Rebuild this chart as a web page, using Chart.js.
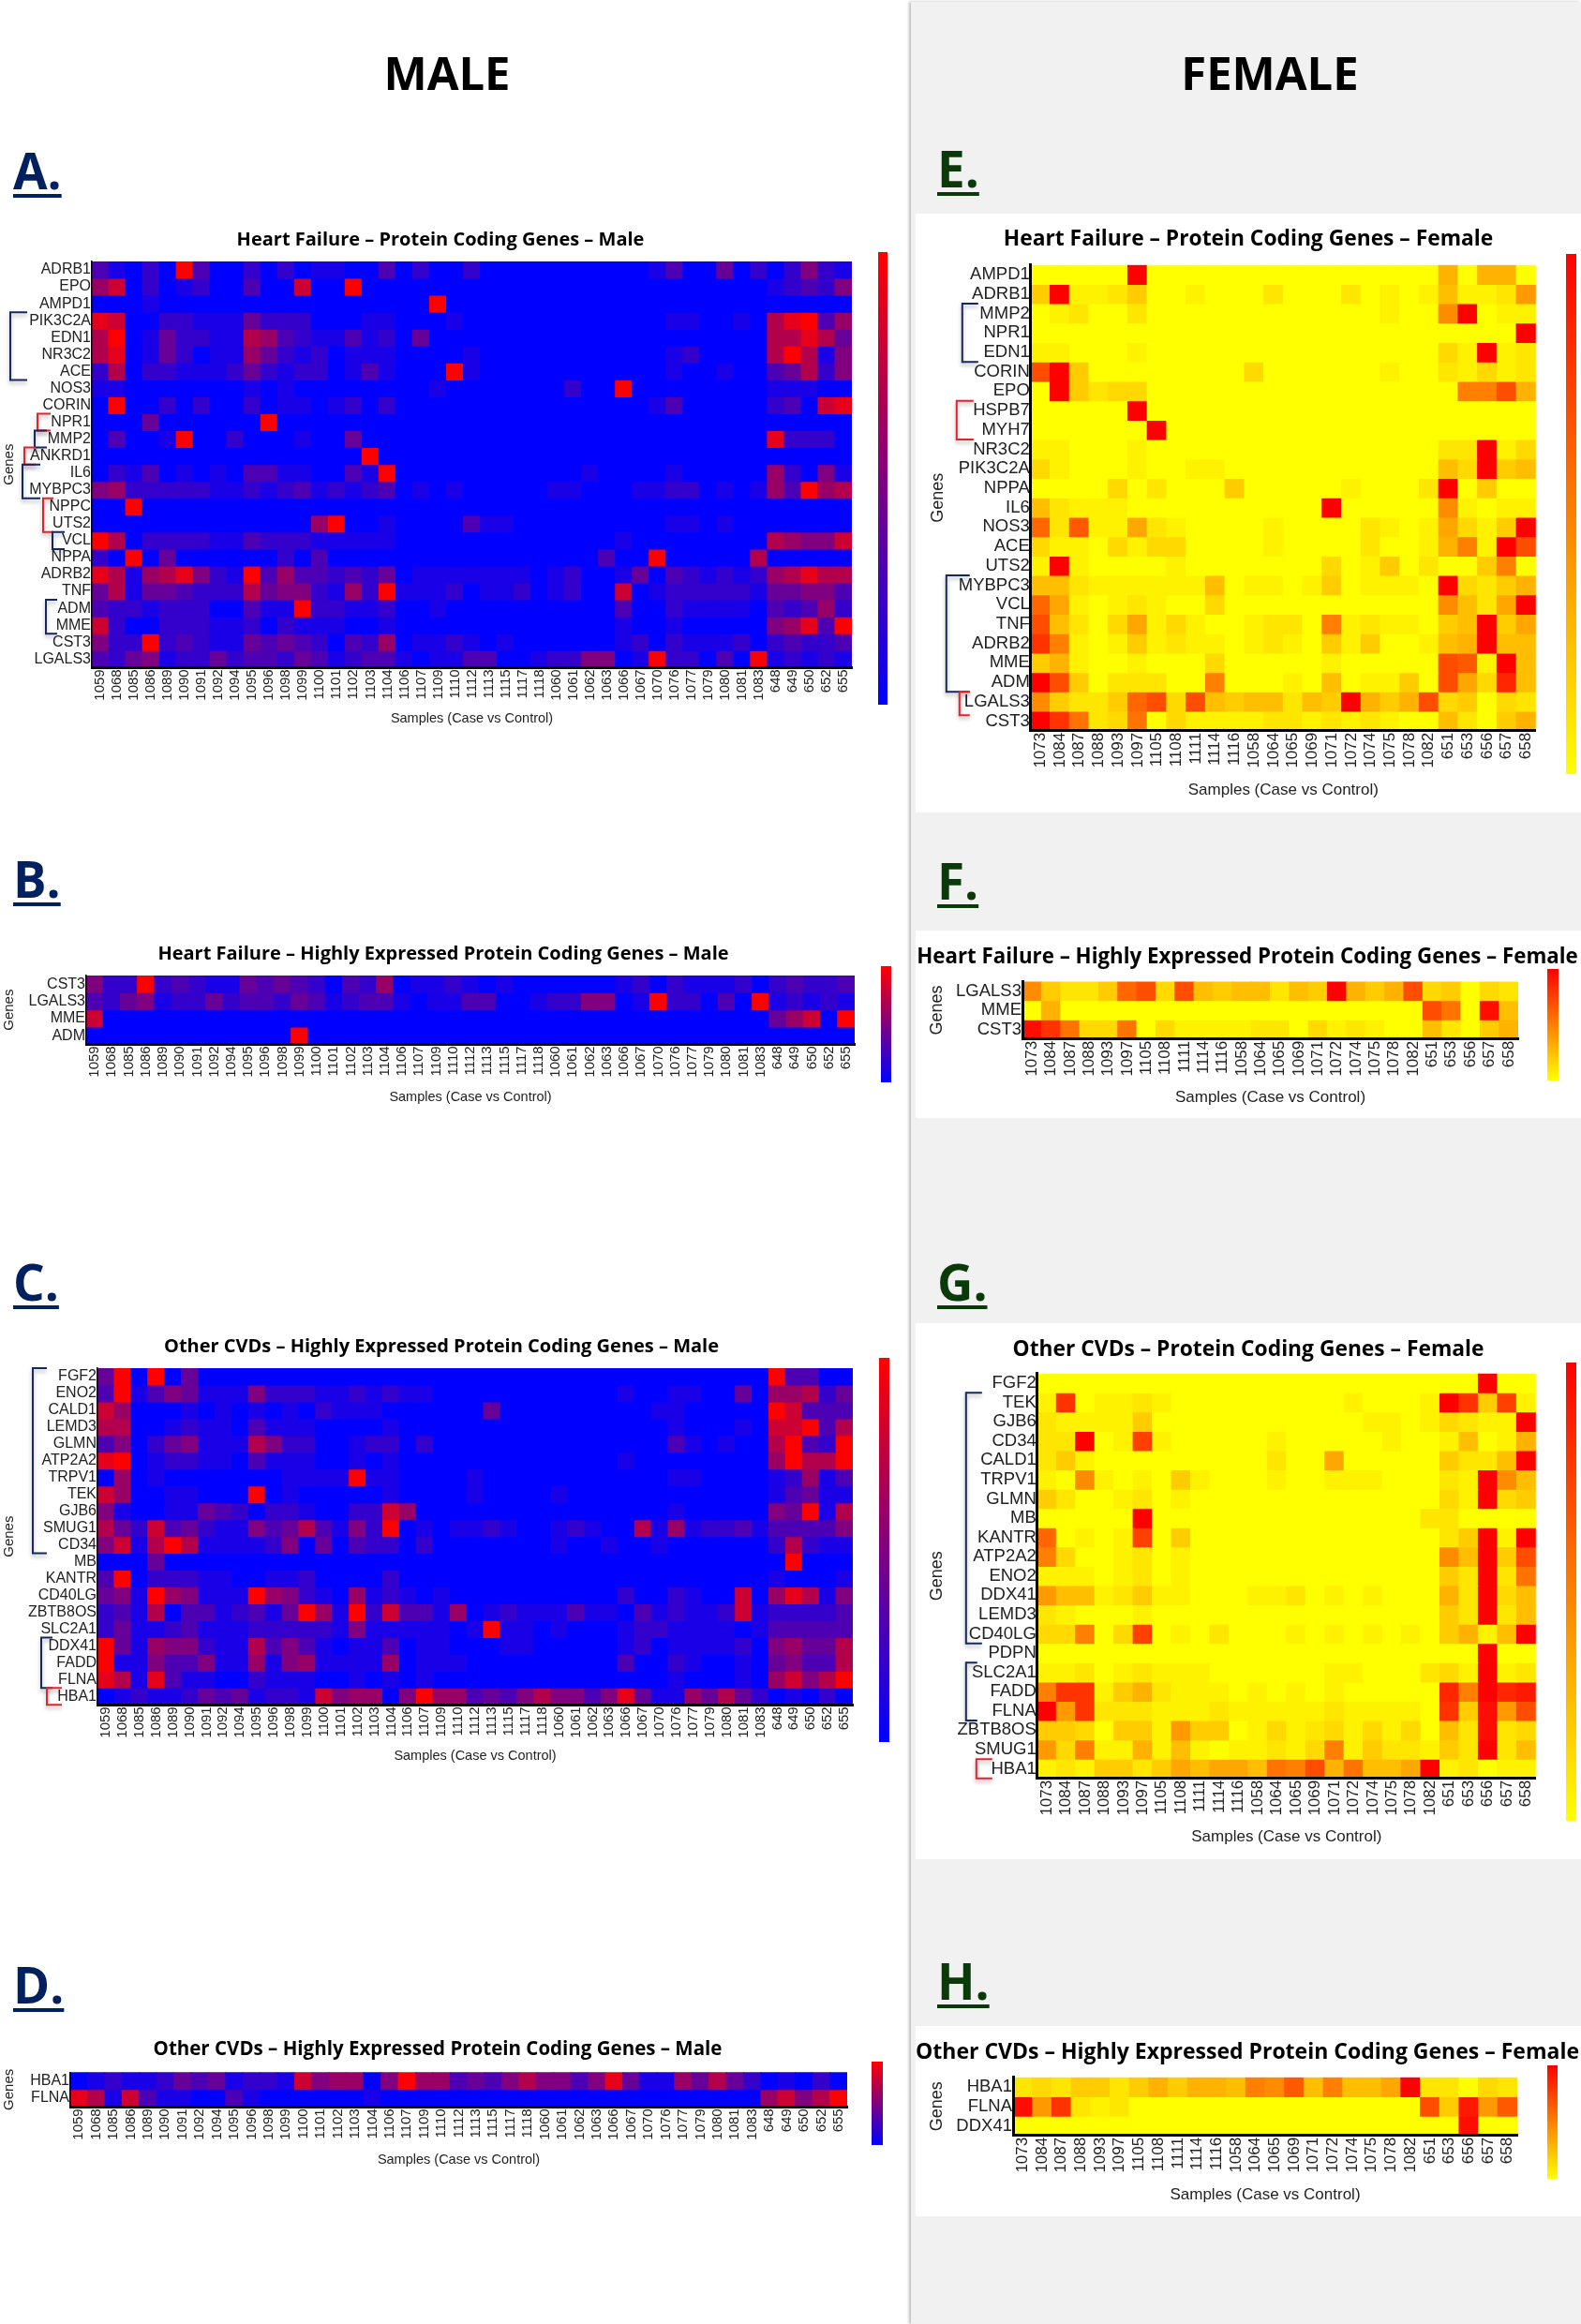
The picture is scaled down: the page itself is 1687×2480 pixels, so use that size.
<!DOCTYPE html>
<html>
<head>
<meta charset="utf-8">
<title>Protein coding genes heatmaps</title>
<script src="https://cdn.jsdelivr.net/npm/chart.js@4/dist/chart.umd.min.js"></script>
<style>
  html, body { margin: 0; padding: 0; background: #fff; }
  #page { position: relative; width: 1687px; height: 2480px; overflow: hidden; }
  #page > * { position: absolute; }
  canvas { display: block; }
  .head { font: 700 49px/1 "Open Sans", sans-serif; color: #000; transform: translateX(-50%); white-space: nowrap; }
  .letter { font: 700 53px/1 "Open Sans", sans-serif; text-decoration: underline; text-decoration-thickness: 4px; text-underline-offset: 5px; }
</style>
</head>
<body>
<div id="page"></div>
<script>
// Sample ids on the x axis
const maleSamples = ["1059","1068","1085","1086","1089","1090","1091","1092","1094","1095","1096","1098","1099","1100","1101","1102","1103","1104","1106","1107","1109","1110","1112","1113","1115","1117","1118","1060","1061","1062","1063","1066","1067","1070","1076","1077","1079","1080","1081","1083","648","649","650","652","655"];
const femaleSamples = ["1073","1084","1087","1088","1093","1097","1105","1108","1111","1114","1116","1058","1064","1065","1069","1071","1072","1074","1075","1078","1082","651","653","656","657","658"];

// A. values are 0 (blue) to 10 (red), one row per gene
const genesA = ["ADRB1","EPO","AMPD1","PIK3C2A","EDN1","NR3C2","ACE","NOS3","CORIN","NPR1","MMP2","ANKRD1","IL6","MYBPC3","NPPC","UTS2","VCL","NPPA","ADRB2","TNF","ADM","MME","CST3","LGALS3"];
const valuesA = [
  [3,1,0,2,0, 10,3,0,0,2, 0,2,0,1,1, 0,0,3,0,2, 0,0,2,0,0, 0,0,0,0,0, 0,0,0,1,3, 0,0,4,0,2, 0,2,5,2,1],
  [6,8,0,2,0, 1,2,0,0,3, 0,0,8,0,0, 10,0,0,0,0, 0,0,0,0,0, 0,0,0,0,0, 0,0,0,0,0, 0,0,0,0,0, 1,2,3,2,5],
  [0,0,0,1,0, 0,0,0,0,0, 0,0,0,0,0, 0,0,0,0,0, 10,0,0,0,0, 0,0,0,0,0, 0,0,0,0,0, 0,0,0,0,0, 0,0,0,0,0],
  [9,8,0,0,2, 2,1,1,1,4, 2,2,2,0,0, 0,1,1,0,0, 0,1,0,0,0, 0,0,0,0,0, 0,0,0,0,1, 1,0,0,1,0, 7,9,10,3,6],
  [7,10,0,1,4, 2,2,1,1,7, 6,3,2,1,1, 3,1,2,0,4, 0,0,0,0,0, 0,0,0,0,0, 0,0,0,0,0, 0,0,0,0,0, 7,7,9,7,4],
  [7,9,0,1,4, 2,0,1,1,6, 4,2,1,2,0, 1,1,1,0,0, 0,0,1,0,0, 0,0,0,0,0, 0,0,0,0,1, 2,0,0,0,0, 7,10,7,1,5],
  [2,7,0,2,2, 1,1,1,2,4, 2,1,2,2,0, 1,3,1,0,0, 0,10,1,0,0, 0,0,0,0,0, 0,0,0,0,1, 0,0,1,0,0, 3,4,7,2,5],
  [1,1,0,0,0, 0,0,0,0,1, 0,1,0,0,0, 0,0,0,0,0, 1,0,0,0,0, 0,0,0,2,0, 0,10,0,0,0, 0,0,0,0,0, 1,1,1,0,0],
  [0,10,0,0,2, 0,2,0,0,2, 0,1,1,0,1, 2,0,2,0,0, 0,0,0,0,0, 0,0,0,0,0, 0,0,0,1,3, 0,0,0,0,0, 2,3,0,8,9],
  [0,0,0,4,0, 0,0,0,0,0, 10,0,0,0,0, 0,0,0,0,0, 0,0,0,0,0, 0,0,0,0,0, 0,0,0,0,0, 0,0,0,0,0, 0,0,0,0,0],
  [0,3,0,0,1, 10,0,0,2,0, 0,0,1,0,0, 4,0,0,0,0, 0,0,0,0,0, 0,0,0,0,0, 0,0,0,0,0, 0,0,0,0,0, 9,2,2,2,0],
  [0,0,0,0,0, 0,0,0,0,0, 0,0,0,0,0, 0,10,0,0,0, 0,0,0,0,0, 0,0,0,0,0, 0,0,0,0,0, 0,0,0,0,0, 0,0,0,0,0],
  [0,2,1,3,0, 1,0,1,0,3, 3,1,1,0,0, 3,1,10,0,0, 0,0,0,0,0, 0,0,0,0,1, 0,0,0,0,1, 0,0,0,0,0, 6,2,0,5,1],
  [5,6,2,2,2, 2,2,1,1,2, 1,2,3,1,2, 1,2,3,0,1, 0,1,0,0,0, 0,0,1,1,0, 0,0,1,1,2, 2,0,1,0,1, 6,3,10,6,7],
  [0,0,10,0,0, 0,0,0,0,0, 0,0,0,0,0, 0,0,0,0,0, 0,0,0,0,0, 0,0,0,0,0, 0,0,0,0,0, 0,0,0,0,0, 0,0,0,0,0],
  [0,0,0,0,0, 0,0,0,0,0, 0,0,0,6,10, 0,0,1,0,0, 0,0,3,1,1, 0,0,0,0,0, 0,0,0,0,1, 1,0,1,0,0, 0,0,0,0,0],
  [10,7,0,2,2, 2,2,1,1,3, 2,2,2,1,1, 1,1,1,0,0, 0,0,0,0,0, 0,0,0,0,0, 0,1,0,0,0, 0,0,0,0,0, 7,6,5,5,8],
  [2,0,10,0,4, 0,0,0,0,0, 0,2,0,3,0, 0,0,0,0,0, 0,0,0,0,0, 0,0,0,0,0, 3,0,0,10,0, 0,0,0,0,7, 0,0,0,0,0],
  [9,7,1,6,7, 9,5,2,1,10, 3,6,3,3,2, 3,2,4,0,1, 1,1,1,1,1, 1,0,1,2,0, 0,1,4,0,3, 2,1,2,1,2, 6,7,9,7,7],
  [4,7,1,4,4, 3,2,2,2,7, 4,5,5,2,1, 6,2,10,1,1, 1,2,0,1,1, 2,0,1,2,0, 0,8,0,1,2, 2,2,2,2,1, 4,4,5,5,3],
  [3,2,2,1,2, 2,2,0,0,3, 1,1,10,2,2, 1,1,2,0,0, 1,0,0,0,0, 0,0,0,0,0, 0,3,0,0,2, 1,1,1,1,0, 3,2,3,6,2],
  [8,2,0,0,2, 2,2,1,1,2, 0,2,1,1,1, 0,0,1,0,0, 0,0,0,0,0, 0,0,0,0,0, 0,1,0,0,1, 0,0,0,0,0, 5,6,9,3,10],
  [5,2,2,10,2, 3,2,1,1,4, 3,4,3,2,0, 3,2,6,0,1, 1,2,1,0,1, 0,0,0,0,0, 0,1,2,0,2, 1,1,1,2,0, 2,3,2,2,3],
  [3,2,4,5,1, 2,2,4,2,3, 3,2,4,3,1, 2,3,3,1,0, 1,1,3,3,0, 0,1,2,2,5, 5,0,1,10,2, 2,0,3,0,10, 1,2,1,2,1]
];

// B.
const genesB = ["CST3","LGALS3","MME","ADM"];
const valuesB = [
  [5,2,2,10,2, 3,2,1,1,4, 3,4,3,2,0, 3,2,6,0,1, 1,2,1,0,1, 0,0,0,0,0, 0,1,2,0,2, 1,1,1,2,0, 2,3,2,2,3],
  [3,2,4,5,1, 2,2,4,2,3, 3,2,4,3,1, 2,3,3,1,0, 1,1,3,3,0, 0,1,2,2,5, 5,0,1,10,2, 2,0,3,0,10, 1,2,1,2,1],
  [8,0,0,0,0, 0,0,0,0,0, 0,0,0,0,0, 0,0,0,0,0, 0,0,0,0,0, 0,0,0,0,0, 0,0,0,0,0, 0,0,0,0,0, 4,6,8,0,10],
  [0,0,0,0,0, 0,0,0,0,0, 0,0,10,0,0, 0,0,0,0,0, 0,0,0,0,0, 0,0,0,0,0, 0,0,0,0,0, 0,0,0,0,0, 0,0,0,0,0]
];

// C.
const genesC = ["FGF2","ENO2","CALD1","LEMD3","GLMN","ATP2A2","TRPV1","TEK","GJB6","SMUG1","CD34","MB","KANTR","CD40LG","ZBTB8OS","SLC2A1","DDX41","FADD","FLNA","HBA1"];
const valuesC = [
  [4,10,0,10,0, 4,0,0,0,0, 0,0,0,0,0, 0,0,0,0,0, 0,0,0,0,0, 0,0,0,0,0, 0,0,0,0,0, 0,0,0,0,0, 10,3,3,0,0],
  [3,10,1,3,5, 4,1,1,1,5, 2,2,2,1,1, 2,1,2,1,1, 0,0,0,0,0, 0,0,0,0,0, 0,1,0,0,1, 1,0,0,4,0, 6,6,7,2,4],
  [8,6,0,0,0, 1,0,1,0,1, 0,1,0,2,1, 1,1,0,0,0, 0,0,0,4,0, 0,0,0,0,0, 0,0,0,1,1, 0,0,0,0,0, 10,8,3,3,3],
  [7,7,0,0,1, 2,1,1,0,3, 1,1,1,0,0, 0,0,1,0,0, 0,0,0,0,0, 0,0,0,0,0, 0,0,0,0,1, 0,0,0,1,0, 8,8,10,3,7],
  [3,5,0,2,4, 5,1,1,1,7, 5,2,2,0,0, 1,2,2,0,2, 0,0,0,0,0, 0,0,0,0,0, 0,0,0,0,3, 1,0,1,0,0, 7,10,3,2,10],
  [9,10,0,1,2, 2,1,1,0,3, 1,1,1,0,0, 1,0,1,0,0, 0,0,0,0,0, 0,0,0,0,0, 0,1,0,0,0, 0,0,0,0,0, 6,10,7,7,10],
  [0,6,0,1,0, 0,0,0,0,0, 0,1,1,1,1, 10,1,1,0,0, 0,0,1,0,0, 0,0,0,0,0, 0,0,0,0,1, 1,0,0,0,0, 1,2,6,1,3],
  [8,6,0,0,1, 1,0,0,0,10, 0,1,0,0,0, 0,0,1,0,0, 0,0,1,0,0, 0,0,1,0,0, 0,0,0,0,0, 0,0,0,0,0, 1,3,4,1,1],
  [5,1,0,0,1, 1,4,3,2,0, 2,2,1,0,0, 2,2,8,6,0, 0,0,0,0,0, 0,0,0,0,0, 0,0,0,0,1, 0,0,0,0,0, 5,4,10,1,7],
  [7,4,2,8,3, 4,2,1,1,5, 3,4,7,3,1, 5,2,10,0,1, 0,1,1,2,1, 0,0,1,2,1, 0,0,7,1,6, 1,2,2,3,1, 3,3,3,3,5],
  [5,8,1,7,10, 7,1,1,1,1, 2,5,0,4,0, 3,2,2,0,2, 0,0,0,0,0, 0,0,1,0,0, 1,0,0,1,0, 0,0,0,0,0, 2,7,2,1,1],
  [0,0,0,4,0, 0,0,0,0,0, 0,0,0,0,0, 0,0,0,0,0, 0,0,0,0,0, 0,0,0,0,0, 0,0,0,0,0, 0,0,0,0,0, 0,10,0,0,0],
  [3,10,0,2,2, 2,1,1,0,0, 1,1,2,0,0, 0,0,2,0,0, 0,0,0,0,0, 0,0,0,0,0, 0,0,0,0,0, 0,0,0,0,0, 1,0,0,0,1],
  [4,5,1,10,6, 5,1,1,1,10, 6,5,2,1,0, 6,1,2,1,0, 1,0,0,0,0, 0,0,0,0,0, 0,2,0,0,2, 1,0,0,8,0, 6,9,7,1,5],
  [2,3,1,7,0, 3,3,1,2,3, 1,4,10,6,1, 10,2,8,3,3, 1,6,0,1,2, 1,1,1,3,1, 1,0,3,1,2, 1,1,2,8,1, 2,2,2,2,3],
  [2,4,1,1,2, 3,1,1,1,2, 2,2,2,2,1, 5,1,1,1,1, 1,0,1,10,1, 1,0,1,0,0, 0,1,2,2,1, 1,1,1,0,1, 3,3,3,3,3],
  [10,4,1,6,5, 5,2,1,1,7, 3,5,3,1,0, 1,1,3,0,1, 1,0,0,0,1, 1,0,0,0,0, 0,1,2,0,1, 1,1,1,2,0, 5,6,4,4,7],
  [10,1,1,5,3, 3,5,1,1,6, 1,5,6,1,1, 1,1,6,0,1, 1,1,0,0,0, 0,0,0,0,0, 0,3,0,0,2, 1,0,0,1,0, 4,5,3,3,7],
  [9,7,1,9,3, 1,1,0,0,2, 1,1,1,0,0, 1,0,1,0,1, 0,0,0,0,0, 0,0,0,0,0, 0,0,0,0,1, 0,0,0,1,0, 6,8,5,7,10],
  [0,1,2,1,1, 2,4,3,4,1, 2,2,1,8,5, 6,6,0,5,10, 6,6,3,4,3, 5,7,5,5,3, 5,9,4,1,1, 6,4,7,4,2, 0,1,0,2,0]
];

// D.
const genesD = ["HBA1","FLNA"];
const valuesD = [
  [0,1,2,1,1, 2,4,3,4,1, 2,2,1,8,5, 6,6,0,5,10, 6,6,3,4,3, 5,7,5,5,3, 5,9,4,1,1, 6,4,7,4,2, 0,1,0,2,0],
  [9,7,1,8,3, 1,1,0,0,3, 1,0,0,0,0, 0,0,1,0,0, 0,0,0,0,0, 0,0,0,0,0, 0,0,0,0,0, 0,0,0,0,0, 6,8,5,7,10]
];

// E. values are 0 (yellow) to 10 (red)
const genesE = ["AMPD1","ADRB1","MMP2","NPR1","EDN1","CORIN","EPO","HSPB7","MYH7","NR3C2","PIK3C2A","NPPA","IL6","NOS3","ACE","UTS2","MYBPC3","VCL","TNF","ADRB2","MME","ADM","LGALS3","CST3"];
const valuesE = [
  [0,0,0,0,0, 10,0,0,0,0, 0,0,0,0,0, 0,0,0,0,0, 0,3,0,3,3, 0],
  [2,10,.5,.5,1, 2,0,0,.5,0, 0,0,1,0,0, 0,1,0,.5,0, .5,2.5,.5,.5,1, 4],
  [0,.5,1,0,0, 1,0,0,0,0, 0,0,0,0,0, 0,0,0,.5,0, 0,4.5,10,0,.5, .5],
  [0,0,0,0,0, 0,0,0,0,0, 0,0,0,0,0, 0,0,0,0,0, 0,0,0,0,0, 10],
  [.5,.5,0,0,0, .5,0,0,0,0, 0,0,0,0,0, 0,0,0,0,0, 0,1.5,.5,10,.5, 1],
  [7,10,2,0,0, 0,0,0,0,0, 0,1.5,0,0,0, 0,0,0,.5,0, 0,1,.5,1.5,.5, 1],
  [0,10,2,1,1.5, 1.5,0,0,0,0, 0,0,0,0,0, 0,0,0,0,0, 0,0,5,5,7, 3],
  [0,0,0,0,0, 10,0,0,0,0, 0,0,0,0,0, 0,0,0,0,0, 0,0,0,0,0, 0],
  [0,0,0,0,0, 0,10,0,0,0, 0,0,0,0,0, 0,0,0,0,0, 0,0,0,0,0, 0],
  [.5,.5,0,0,0, .5,0,0,0,0, 0,0,0,0,0, 0,0,0,0,0, 0,1,1,10,.5, 1.5],
  [1.5,.5,0,0,0, .5,0,0,.5,.5, 0,0,0,0,0, 0,0,0,0,0, 0,2.5,1.5,10,2, 2.5],
  [0,0,0,0,1.5, 0,1,0,0,0, 2,0,0,0,0, 0,.5,0,0,0, 1,10,0,2,0, 0],
  [2.5,1,.5,.5,.5, 0,0,0,0,0, 0,0,0,0,0, 10,0,0,0,0, 0,4.5,.5,0,.5, .5],
  [6,1,6.5,.5,.5, 3.5,1,.5,0,0, 0,0,.5,0,0, 0,0,1,.5,0, .5,3.5,1.5,.5,2, 10],
  [1.5,.5,.5,0,1.5, .5,1.5,1.5,0,0, 0,0,.5,0,0, 0,0,1,0,0, .5,3,5,.5,10, 7],
  [.5,10,.5,0,0, 0,0,.5,0,0, 0,0,0,0,0, 1.5,0,.5,2,0, 1,0,0,2,5, 0],
  [2.5,2.5,1,.5,.5, .5,.5,.5,.5,2.5, 0,.5,.5,0,.5, 2,0,.5,.5,.5, 0,10,1.5,1,2, 3],
  [6,3.5,.5,0,.5, 1,.5,0,0,1.5, 0,0,0,0,0, 0,0,0,0,0, 0,4.5,2.5,1,3.5, 10],
  [7,2.5,1,0,1.5, 3.5,.5,1.5,.5,0, 0,.5,1,1,0, 5,.5,1,.5,.5, 0,2,2.5,10,2, 3.5],
  [8,5,.5,0,.5, 2,.5,1,.5,.5, 0,.5,1,.5,0, 2,.5,2,0,0, .5,2.5,3,10,2.5, 2.5],
  [2,3,.5,0,0, .5,0,0,0,1.5, 0,0,0,0,0, .5,0,0,0,0, 0,7,6.5,.5,10, 2.5],
  [10,7,2,0,1, 1,1,0,0,5, 0,0,0,.5,0, 2.5,0,.5,.5,2, 0,7,3.5,1.5,8.5, 2.5],
  [4.5,2,1,1,2, 6,7,1.5,7,2.5, 2,2.5,2.5,1,2.5, 2,10,3,2,3, 7,1.5,2,0,1.5, 1],
  [10,8,5.5,1,1.5, 5.5,0,1.5,.5,.5, .5,.5,1,1,.5, 1,.5,1,.5,0, 0,2.5,1,0,2, 3]
];

// F.
const genesF = ["LGALS3","MME","CST3"];
const valuesF = [
  [4.5,2,1,1,2, 6,7,1.5,7,2.5, 2,2.5,2.5,1,2.5, 2,10,3,2,3, 7,1.5,2,0,1.5, 1],
  [0,3,0,0,0, 0,0,0,0,0, 0,0,0,0,0, 0,0,0,0,0, 0,7,5.5,0,9.5, 2.5],
  [9.5,8,5.5,1.5,1.5, 5.5,0,1.5,.5,.5, .5,.5,1,1,0, 1.5,.5,1,.5,0, 0,2.5,1,0,2, 3]
];

// G.
const genesG = ["FGF2","TEK","GJB6","CD34","CALD1","TRPV1","GLMN","MB","KANTR","ATP2A2","ENO2","DDX41","LEMD3","CD40LG","PDPN","SLC2A1","FADD","FLNA","ZBTB8OS","SMUG1","HBA1"];
const valuesG = [
  [0,0,0,0,0, 0,0,0,0,0, 0,0,0,0,0, 0,0,0,0,0, 0,0,0,10,0, 0],
  [.5,8,0,.5,.5, 1,.5,0,0,0, 0,0,0,0,0, 0,.5,0,0,0, .5,10,8,2,7.5, .5],
  [1,.5,.5,.5,.5, 2,0,0,0,0, 0,0,0,0,0, 0,0,.5,.5,0, .5,1.5,1,.5,.5, 10],
  [1,1,10,0,.5, 7.5,.5,0,0,0, 0,0,.5,0,0, 0,0,0,.5,0, 0,.5,2.5,0,.5, 3],
  [1,2,.5,0,0, 0,0,0,0,0, 0,0,1,0,0, 3.5,0,0,0,0, 0,2,1,1,2.5, 10],
  [.5,0,4.5,.5,0, .5,0,2,.5,0, 0,0,.5,0,0, .5,.5,.5,0,0, 0,1,.5,10,4.5, 2.5],
  [2,1,0,0,.5, 1,0,.5,0,0, 0,0,0,0,0, 0,0,0,0,0, 0,1.5,.5,10,1.5, 2],
  [0,0,0,0,0, 10,0,0,0,0, 0,0,0,0,0, 0,0,0,0,0, 1,1,0,0,0, 0],
  [6,0,.5,0,.5, 7.5,0,2,0,0, 0,0,0,0,0, 0,0,0,0,0, 0,1,2,10,.5, 10],
  [5,1.5,0,0,.5, 1,0,.5,0,0, 0,0,0,0,0, 0,0,0,0,0, 0,4.5,2.5,10,2, 7],
  [.5,.5,.5,0,.5, 1,0,.5,0,0, 0,0,0,0,0, 0,0,0,0,0, 0,2,1,10,1, 5.5],
  [4,2.5,2.5,.5,1, 2,.5,.5,0,0, 0,.5,.5,1,0, .5,0,.5,0,0, 0,3,1,10,1.5, 2.5],
  [1,.5,0,0,0, .5,0,0,0,0, 0,0,0,0,0, 0,0,0,0,0, 0,2,1,10,1, 2.5],
  [1.5,1.5,5,0,1.5, 7.5,0,.5,0,1, 0,0,0,.5,0, .5,0,.5,0,.5, 0,2,3,.5,2.5, 10],
  [0,0,0,0,0, 0,0,0,0,0, 0,0,0,0,0, 0,0,0,0,0, 0,0,0,10,0, 0],
  [.5,.5,1,0,.5, 1,.5,.5,.5,0, 0,0,0,0,0, .5,.5,0,0,0, 1,1.5,.5,10,.5, 1],
  [5,8,8,.5,2, 3,1,.5,.5,.5, 0,.5,0,.5,0, .5,0,0,0,0, 0,8.5,5,10,8.5, 9],
  [10,4,8,1,1, 1,.5,.5,.5,1, .5,.5,.5,.5,.5, 1,.5,.5,.5,.5, 0,8,2,9.5,4, 7],
  [2,2,1.5,0,2, 2,.5,4,2,2, 0,.5,1.5,.5,1, 1.5,.5,1.5,.5,1.5, 0,2.5,1,9.5,1, 1.5],
  [4,1.5,5,.5,.5, 3,.5,2.5,.5,0, .5,.5,1,.5,1.5, 5,.5,2,1,1, .5,2,1,10,1, 2.5],
  [.5,1,.5,2,2, 1,2,3.5,2.5,3.5, 3.5,2.5,5.5,5,7, 3,5.5,2.5,2.5,3.5, 10,.5,1,0,.5, .5]
];

// H.
const genesH = ["HBA1","FLNA","DDX41"];
const valuesH = [
  [1,1.5,1,2,2, 1,2,3,2,3, 3,2.5,5,4.5,6.5, 2.5,5,2.5,2.5,3.5, 10,1,1,0,1.5, 1],
  [9.5,4,8,1,.5, 1,0,0,0,0, 0,0,0,0,0, 0,0,0,0,0, 0,7,2,9,4, 6.5],
  [0,0,0,0,0, 0,0,0,0,0, 0,0,0,0,0, 0,0,0,0,0, 0,0,0,9.5,0, 0]
];

const NAVY = "#15295f";
const RED = "#e8202a";

// Layout of the panels, in page pixels. plot = [left, top, right, bottom]
const panels = [
  { title: "Heart Failure – Protein Coding Genes – Male", sex: "m", genes: genesA, values: valuesA, titleX: 470, titleY: 256, titleSize: 20,
    plot: [98, 279, 909, 712], bar: [937, 269, 947, 752], genesX: 10, xTitleY: 767,
    brackets: [[3,7,11,29,NAVY],[9,10,40,54,RED],[10,11,37,50,NAVY],[11,12,26,38,RED],[12,14,24,43,NAVY],[14,16,46,57,RED],[16,17,56,69,NAVY],[20,22,49,61,NAVY]] },
  { title: "Heart Failure – Highly Expressed Protein Coding Genes – Male", sex: "m", genes: genesB, values: valuesB, titleX: 473, titleY: 1018, titleSize: 20,
    plot: [92, 1041, 912, 1114], bar: [940, 1031, 951, 1155], genesX: 10, xTitleY: 1171, brackets: [] },
  { title: "Other CVDs – Highly Expressed Protein Coding Genes – Male", sex: "m", genes: genesC, values: valuesC, titleX: 471, titleY: 1437, titleSize: 20,
    plot: [104, 1460, 910, 1819], bar: [938, 1449, 949, 1859], genesX: 10, xTitleY: 1874,
    brackets: [[0,11,35,50,NAVY],[16,19,44,56,NAVY],[19,20,50,66,RED]] },
  { title: "Other CVDs – Highly Expressed Protein Coding Genes – Male", sex: "m", genes: genesD, values: valuesD, titleX: 467, titleY: 2187, titleSize: 20.5,
    plot: [75, 2211, 904, 2248], bar: [930, 2200, 942, 2289], genesX: 10, xTitleY: 2305, brackets: [] },
  { title: "Heart Failure – Protein Coding Genes – Female", sex: "f", genes: genesE, values: valuesE, titleX: 1332, titleY: 256, titleSize: 22.8,
    plot: [1100, 283, 1639, 780], bar: [1671, 271, 1682, 826], genesX: 1001, xTitleY: 844,
    brackets: [[2,5,1027,1044,NAVY],[7,9,1021,1039,RED],[16,22,1010,1035,NAVY],[22,23.2,1024,1035,RED]] },
  { title: "Heart Failure – Highly Expressed Protein Coding Genes – Female", sex: "f", genes: genesF, values: valuesF, titleX: 1331, titleY: 1021, titleSize: 22.3, titleHalf: 370,
    plot: [1091, 1047, 1620, 1108], bar: [1651, 1034, 1663, 1153], genesX: 1000, xTitleY: 1171, brackets: [] },
  { title: "Other CVDs – Protein Coding Genes – Female", sex: "f", genes: genesG, values: valuesG, titleX: 1332, titleY: 1441, titleSize: 22.8,
    plot: [1107, 1466, 1639, 1898], bar: [1671, 1454, 1682, 1943], genesX: 1000, xTitleY: 1961,
    brackets: [[1,14,1031,1048,NAVY],[15,18,1031,1043,NAVY],[20,21,1042,1059,RED]] },
  { title: "Other CVDs – Highly Expressed Protein Coding Genes – Female", sex: "f", genes: genesH, values: valuesH, titleX: 1331, titleY: 2191, titleSize: 23, titleHalf: 370,
    plot: [1081, 2217, 1619, 2279], bar: [1651, 2204, 1662, 2325], genesX: 1000, xTitleY: 2343, brackets: [] }
];

const page = document.getElementById("page");

function addBox(left, top, width, height, css) {
  const d = document.createElement("div");
  d.style.cssText = `left:${left}px;top:${top}px;width:${width}px;height:${height}px;${css || ""}`;
  page.appendChild(d);
  return d;
}

function addText(cls, text, x, baseline, size, color) {
  const d = document.createElement("div");
  d.className = cls;
  d.textContent = text;
  d.style.left = x + "px";
  d.style.top = (baseline - 0.888 * size) + "px";
  d.style.fontSize = size + "px";
  if (color) d.style.color = color;
  page.appendChild(d);
}

// Grey column and white cards behind the female panels
addBox(972, 2, 715, 2478, "background:#f1f1f1;box-shadow:-2px 0 3px #bbb;");
[[228, 867], [993, 1193], [1412, 1984], [2162, 2365]].forEach(r => addBox(977, r[0], 710, r[1] - r[0], "background:#fff;"));

addText("head", "MALE", 477, 97, 49);
addText("head", "FEMALE", 1355, 97, 49);

const maleLetters = [["A.", 202], ["B.", 958], ["C.", 1388], ["D.", 2138]];
const femaleLetters = [["E.", 200], ["F.", 960], ["G.", 1388], ["H.", 2134]];
maleLetters.forEach(l => addText("letter", l[0], 14, l[1], 53, "#00205f"));
femaleLetters.forEach(l => addText("letter", l[0], 1000, l[1], 53, "#0a3a0a"));

function cellColor(sex, v) {
  const t = Math.max(0, Math.min(1, v / 10));
  if (sex === "m") return `rgb(${Math.round(255 * t)},0,${Math.round(255 * (1 - t))})`;
  return `rgb(255,${Math.round(255 * (1 - t))},0)`;
}

// Gene group brackets, drawn to the left of the y axis
const bracketPlugin = {
  id: "geneBrackets",
  afterDraw(chart, args, opts) {
    const ctx = chart.ctx, y = chart.scales.y;
    (opts.items || []).forEach(b => {
      const top = y.getPixelForValue(b[0]), bottom = y.getPixelForValue(b[1]);
      const x0 = b[2] - opts.left, x1 = b[3] - opts.left;
      ctx.save();
      ctx.strokeStyle = b[4];
      ctx.lineWidth = 2;
      ctx.shadowColor = "rgba(0,0,0,0.3)";
      ctx.shadowBlur = 4;
      ctx.shadowOffsetY = 3;
      ctx.beginPath();
      ctx.moveTo(x1, top);
      ctx.lineTo(x0, top);
      ctx.lineTo(x0, bottom);
      ctx.lineTo(x1, bottom);
      ctx.stroke();
      ctx.restore();
    });
  }
};

panels.forEach(p => {
  const female = p.sex === "f";
  const samples = female ? femaleSamples : maleSamples;
  const [pl, pt, pr, pb] = p.plot;

  const geneFont = female ? 18.5 : 16;
  const sampleFont = female ? 17 : 15;
  const axisFont = female ? 17 : 14.5;
  const genesFont = female ? 18 : 15;

  // the title is squeezed to the canvas width, so wide titles need a wider canvas
  const genesLeft = p.genesX - genesFont * 0.6;
  const left = p.titleHalf ? Math.min(genesLeft, p.titleX - p.titleHalf) : genesLeft;
  const right = 2 * p.titleX - left;
  const titleH = p.titleSize * 1.2;
  const top = p.titleY - titleH / 2;
  const xAxisH = p.xTitleY - pb + axisFont * 0.6;

  const canvas = document.createElement("canvas");
  const w = Math.round(right - left), h = Math.round(pb + xAxisH - top);
  canvas.width = w;
  canvas.height = h;
  canvas.style.cssText = `left:${left}px;top:${top}px;width:${w}px;height:${h}px;`;
  page.appendChild(canvas);

  // Colour bar
  const b = p.bar;
  addBox(b[0], b[1], b[2] - b[0], b[3] - b[1],
    `background:linear-gradient(to bottom,#f00,${female ? "#ff0" : "#00f"});`);

  new Chart(canvas.getContext("2d"), {
    type: "bar",
    data: {
      labels: samples,
      datasets: p.genes.map((g, i) => ({
        label: g,
        yAxisID: "y",
        data: p.values[i].map(() => 1),
        backgroundColor: p.values[i].map(v => cellColor(p.sex, v)),
        barPercentage: 1,
        categoryPercentage: 1,
        borderWidth: 0,
        inflateAmount: 0.5
      }))
    },
    plugins: [bracketPlugin],
    options: {
      responsive: false,
      animation: false,
      devicePixelRatio: 1,
      layout: { padding: 0 },
      plugins: {
        legend: { display: false },
        tooltip: { enabled: false },
        title: {
          display: true,
          text: p.title,
          color: "#000",
          font: { family: "'Open Sans', sans-serif", size: p.titleSize, weight: "700", lineHeight: 1.2 },
          padding: { top: 0, bottom: pt - top - titleH }
        },
        geneBrackets: { items: p.brackets, left: left }
      },
      scales: {
        x: {
          type: "category",
          stacked: true,
          offset: true,
          grid: { display: false, drawTicks: false },
          border: { display: true, color: "#000", width: 3, z: 2 },
          ticks: {
            autoSkip: false, minRotation: 90, maxRotation: 90, padding: 2, color: "#222",
            font: { family: "'Liberation Sans', sans-serif", size: sampleFont }
          },
          title: {
            display: true, text: "Samples (Case vs Control)", color: "#222", padding: 0,
            font: { family: "'Liberation Sans', sans-serif", size: axisFont, lineHeight: 1.2 }
          },
          afterFit: s => { s.height = xAxisH; }
        },
        y: {
          type: "linear",
          stacked: true,
          reverse: true,
          min: 0,
          max: p.genes.length,
          grid: { display: false, drawTicks: false },
          border: { display: true, color: "#000", width: female ? 3 : 1.5, z: 2 },
          // one tick in the middle of each row
          afterBuildTicks: s => { s.ticks = p.genes.map((g, i) => ({ value: i + 0.5 })); },
          ticks: {
            autoSkip: false, padding: 1, color: "#222",
            font: { family: "'Liberation Sans', sans-serif", size: geneFont },
            callback: (v, i) => p.genes[i]
          },
          title: {
            display: true, text: "Genes", color: "#222",
            padding: { top: genesLeft - left, bottom: 0 },
            font: { family: "'Liberation Sans', sans-serif", size: genesFont, lineHeight: 1.2 }
          },
          afterFit: s => { s.width = pl - left; }
        },
        // empty axis that keeps the space right of the plot, so the title stays centred on the canvas
        pad: {
          type: "linear",
          position: "right",
          grid: { display: false, drawTicks: false },
          border: { display: false },
          ticks: { display: false },
          afterFit: s => { s.width = w - (pr - left); }
        }
      }
    }
  });
});
</script>
</body>
</html>
